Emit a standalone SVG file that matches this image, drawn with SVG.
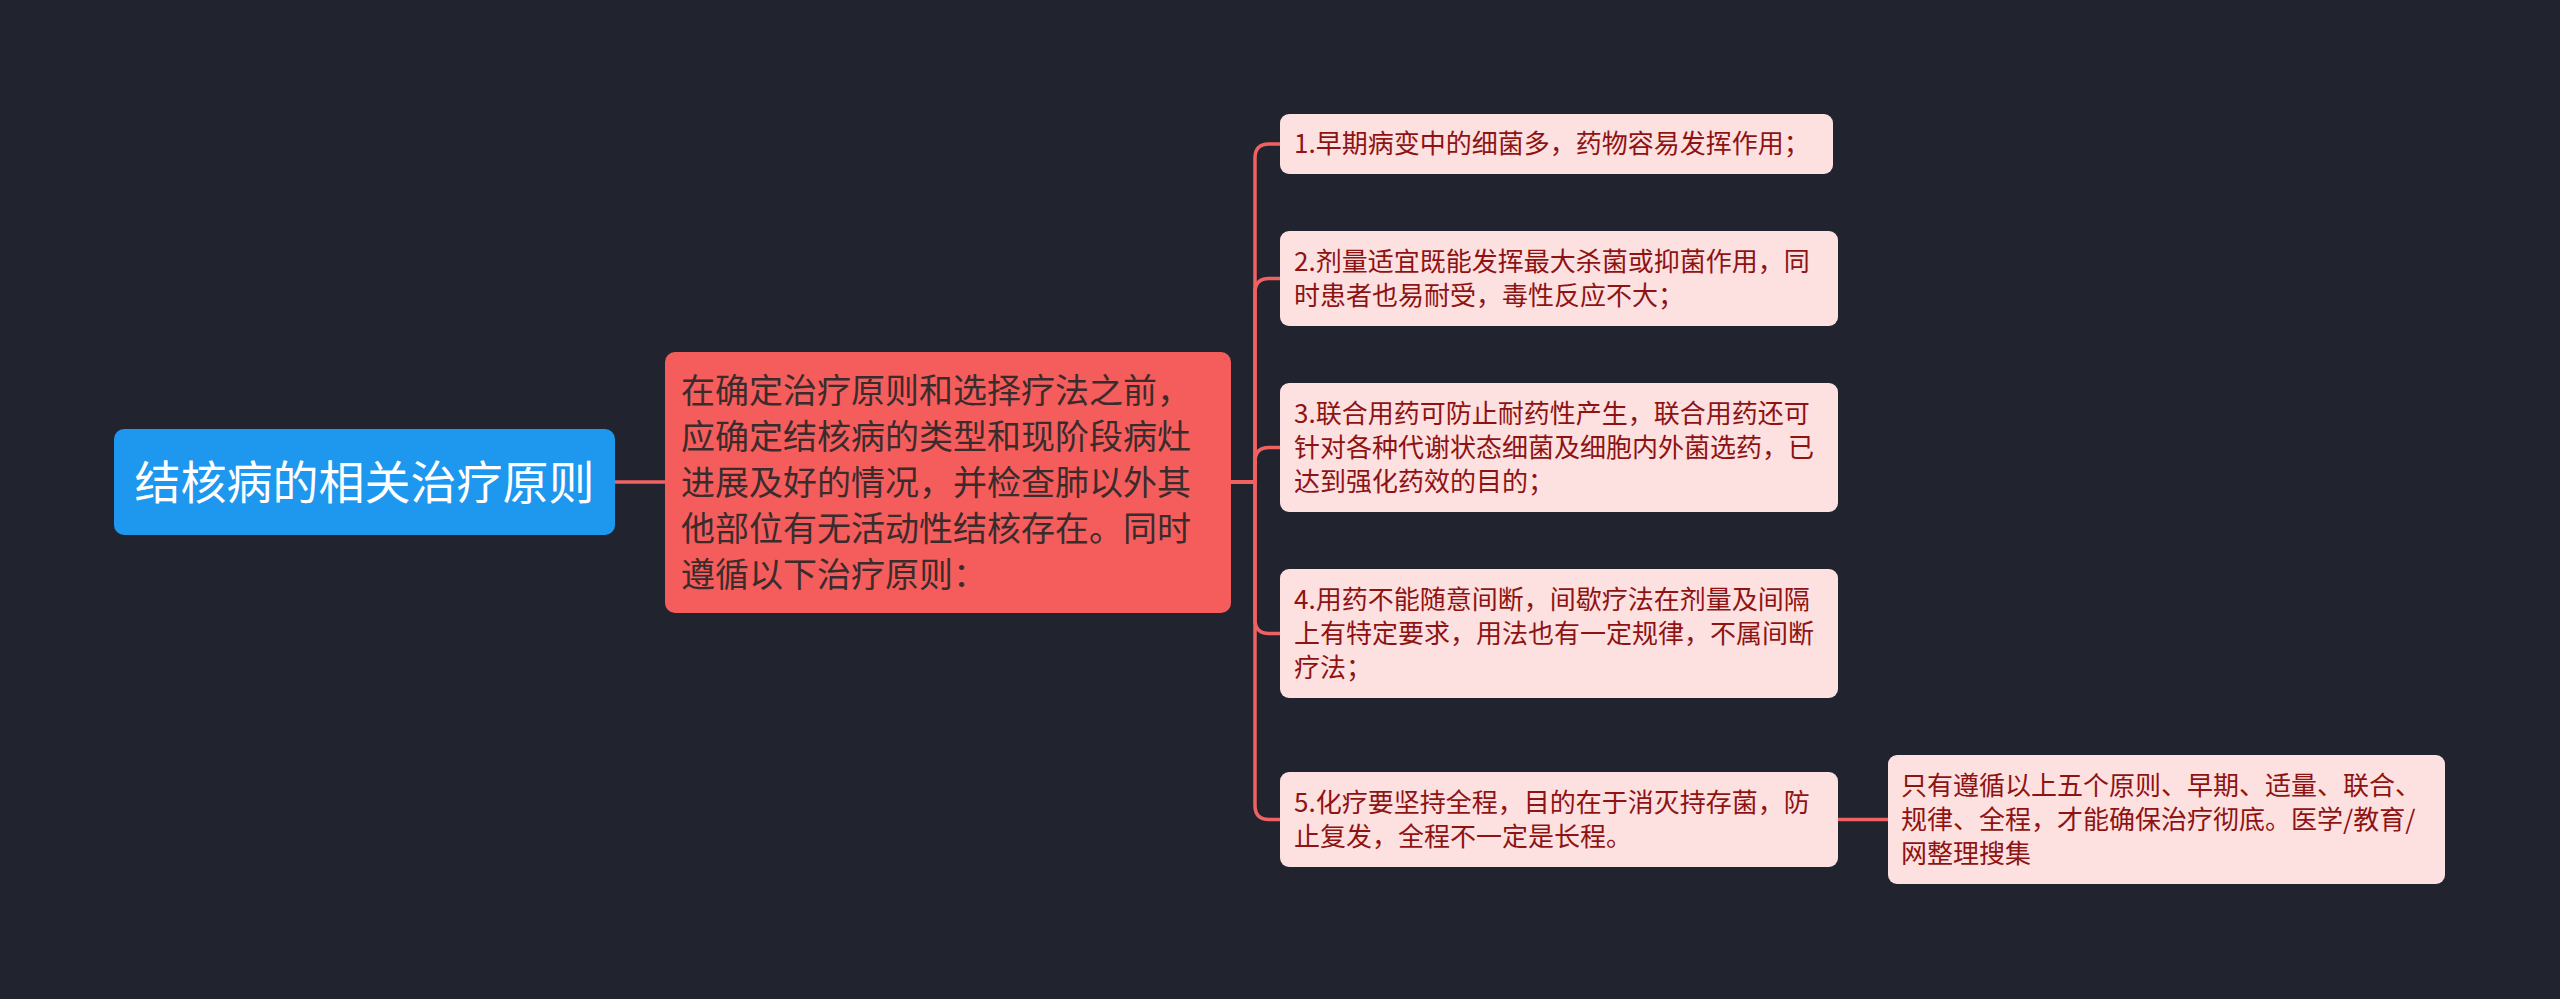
<svg xmlns="http://www.w3.org/2000/svg" width="2560" height="999" viewBox="0 0 2560 999">
<style>
.cn{font-family:"Noto Sans CJK SC","Noto Sans",sans-serif;}
.root-t{font-size:46px;fill:#ffffff;}
.main-t{font-size:34px;fill:#3a2c2c;}
.leaf-t{font-size:26px;fill:#8e1313;}
.leaf{fill:#fde0e0;}
.conn{fill:none;stroke:#f06262;stroke-width:3.5;}
</style>
<rect x="0" y="0" width="2560" height="999" fill="#21242f"/>
<g id="connectors">
<path class="conn" d="M615 482 H665"/>
<path class="conn" d="M1231 482 H1255 V158 Q1255 144 1269 144 H1280"/>
<path class="conn" d="M1231 482 H1255 V292.5 Q1255 278.5 1269 278.5 H1280"/>
<path class="conn" d="M1231 482 H1255 V461.5 Q1255 447.5 1269 447.5 H1280"/>
<path class="conn" d="M1231 482 H1255 V619.5 Q1255 633.5 1269 633.5 H1280"/>
<path class="conn" d="M1231 482 H1255 V805.5 Q1255 819.5 1269 819.5 H1280"/>
<path class="conn" d="M1838 819.5 H1888"/>
</g>
<g id="root">
<rect x="114" y="429" width="501" height="106" rx="10" fill="#1e97ef"/>
<text class="cn root-t" x="364.5" y="498.5" text-anchor="middle">结核病的相关治疗原则</text>
</g>
<g id="main">
<rect x="665" y="352" width="566" height="261" rx="10" fill="#f55c5c"/>
<text class="cn main-t">
<tspan x="681" y="403">在确定治疗原则和选择疗法之前，</tspan>
<tspan x="681" y="449">应确定结核病的类型和现阶段病灶</tspan>
<tspan x="681" y="495">进展及好的情况，并检查肺以外其</tspan>
<tspan x="681" y="541">他部位有无活动性结核存在。同时</tspan>
<tspan x="681" y="587">遵循以下治疗原则：</tspan>
</text>
</g>
<g id="n1">
<rect class="leaf" x="1280" y="114" width="553" height="60" rx="9"/>
<text class="cn leaf-t"><tspan x="1294" y="153.4">1.早期病变中的细菌多，药物容易发挥作用；</tspan></text>
</g>
<g id="n2">
<rect class="leaf" x="1280" y="231" width="558" height="95" rx="9"/>
<text class="cn leaf-t"><tspan x="1294" y="270.9">2.剂量适宜既能发挥最大杀菌或抑菌作用，同</tspan><tspan x="1294" y="304.9">时患者也易耐受，毒性反应不大；</tspan></text>
</g>
<g id="n3">
<rect class="leaf" x="1280" y="383" width="558" height="129" rx="9"/>
<text class="cn leaf-t"><tspan x="1294" y="422.9">3.联合用药可防止耐药性产生，联合用药还可</tspan><tspan x="1294" y="456.9">针对各种代谢状态细菌及细胞内外菌选药，已</tspan><tspan x="1294" y="490.9">达到强化药效的目的；</tspan></text>
</g>
<g id="n4">
<rect class="leaf" x="1280" y="569" width="558" height="129" rx="9"/>
<text class="cn leaf-t"><tspan x="1294" y="608.9">4.用药不能随意间断，间歇疗法在剂量及间隔</tspan><tspan x="1294" y="642.9">上有特定要求，用法也有一定规律，不属间断</tspan><tspan x="1294" y="676.9">疗法；</tspan></text>
</g>
<g id="n5">
<rect class="leaf" x="1280" y="772" width="558" height="95" rx="9"/>
<text class="cn leaf-t"><tspan x="1294" y="811.9">5.化疗要坚持全程，目的在于消灭持存菌，防</tspan><tspan x="1294" y="845.9">止复发，全程不一定是长程。</tspan></text>
</g>
<g id="n6">
<rect class="leaf" x="1888" y="755" width="557" height="129" rx="9"/>
<text class="cn leaf-t"><tspan x="1901" y="794.9">只有遵循以上五个原则、早期、适量、联合、</tspan><tspan x="1901" y="828.9">规律、全程，才能确保治疗彻底。医学/教育/</tspan><tspan x="1901" y="862.9">网整理搜集</tspan></text>
</g>
</svg>
